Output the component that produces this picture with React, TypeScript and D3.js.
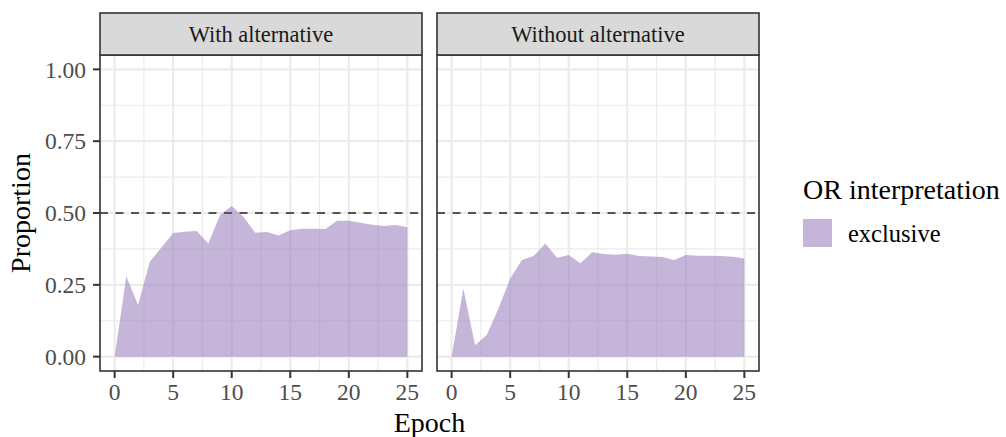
import React from "react";
import * as d3 from "d3";

const epochs = d3.range(0, 26);
const withAlt = [0, 0.28, 0.18, 0.33, 0.38, 0.43, 0.435, 0.437, 0.394, 0.493, 0.524, 0.487, 0.431, 0.434, 0.422, 0.44, 0.445, 0.445, 0.444, 0.473, 0.473, 0.466, 0.459, 0.455, 0.458, 0.45];
const withoutAlt = [0, 0.237, 0.04, 0.075, 0.168, 0.272, 0.336, 0.35, 0.394, 0.344, 0.354, 0.325, 0.363, 0.357, 0.355, 0.358, 0.35, 0.349, 0.347, 0.336, 0.354, 0.351, 0.351, 0.35, 0.348, 0.342];
const panels = ["With alternative", "Without alternative"];
const panelValues = [withAlt, withoutAlt];
const xTicks = [0, 5, 10, 15, 20, 25];
const xMinor = [2.5, 7.5, 12.5, 17.5, 22.5];
const yTicks = [0, 0.25, 0.5, 0.75, 1];
const yTickLabels = ["0.00", "0.25", "0.50", "0.75", "1.00"];
const yMinor = [0.125, 0.375, 0.625, 0.875];
const refLine = 0.5;
const legendTitle = "OR interpretation";
const legendLabel = "exclusive";

const FONT = "'Liberation Serif', 'Times New Roman', serif";
const panelLefts = [100, 437];
const panelW = 322;
const panelTop = 55;
const panelBottom = 371;
const stripTop = 13;

export default function App() {
  const y = d3.scaleLinear().domain([-0.05, 1.05]).range([panelBottom, panelTop]);
  return (
    <div style={{ position: "absolute", left: 0, top: 0 }}>
      <svg width={1006} height={437} style={{ display: "block", background: "#fff" }} fontFamily={FONT}>
        {panels.map((name, pi) => {
          const left = panelLefts[pi];
          const x = d3.scaleLinear().domain([-1.25, 26.25]).range([left, left + panelW]);
          const vals = panelValues[pi];
          const area = d3
            .area<number>()
            .x((_, i) => x(epochs[i]))
            .y0(y(0))
            .y1((d) => y(d));
          return (
            <g key={name}>
              <rect x={left} y={panelTop} width={panelW} height={panelBottom - panelTop} fill="#fff" />
              {xMinor.map((t) => (
                <line key={"xm" + t} x1={x(t)} x2={x(t)} y1={panelTop} y2={panelBottom} stroke="#EBEBEB" strokeWidth={1.2} />
              ))}
              {yMinor.map((t) => (
                <line key={"ym" + t} x1={left} x2={left + panelW} y1={y(t)} y2={y(t)} stroke="#EBEBEB" strokeWidth={1.2} />
              ))}
              {xTicks.map((t) => (
                <line key={"xM" + t} x1={x(t)} x2={x(t)} y1={panelTop} y2={panelBottom} stroke="#EBEBEB" strokeWidth={2.2} />
              ))}
              {yTicks.map((t) => (
                <line key={"yM" + t} x1={left} x2={left + panelW} y1={y(t)} y2={y(t)} stroke="#EBEBEB" strokeWidth={2.2} />
              ))}
              <path d={area(vals) || ""} fill="#9E84C0" fillOpacity={0.6} />
              <line x1={left} x2={left + panelW} y1={y(refLine)} y2={y(refLine)} stroke="#555" strokeWidth={2} strokeDasharray="8,7.5" />
              <rect x={left} y={panelTop} width={panelW} height={panelBottom - panelTop} fill="none" stroke="#333" strokeWidth={1.6} />
              <rect x={left} y={stripTop} width={panelW} height={panelTop - stripTop} fill="#D9D9D9" stroke="#333" strokeWidth={1.6} />
              <text x={left + panelW / 2} y={41.5} textAnchor="middle" fontSize={22.5} fill="#1A1A1A">
                {name}
              </text>
              {xTicks.map((t) => (
                <g key={"xt" + t}>
                  <line x1={x(t)} x2={x(t)} y1={panelBottom} y2={panelBottom + 7} stroke="#333" strokeWidth={2} />
                  <text x={x(t)} y={400} textAnchor="middle" fontSize={23.5} fill="#4D4D4D">
                    {t}
                  </text>
                </g>
              ))}
            </g>
          );
        })}
        {yTicks.map((t, i) => (
          <g key={"yt" + t}>
            <line x1={93} x2={100} y1={y(t)} y2={y(t)} stroke="#333" strokeWidth={2} />
            <text x={86} y={y(t)} dy="0.35em" textAnchor="end" fontSize={23.5} fill="#4D4D4D">
              {yTickLabels[i]}
            </text>
          </g>
        ))}
        <text x={429.5} y={431.5} textAnchor="middle" fontSize={28} fill="#000">
          Epoch
        </text>
        <text transform={`translate(30,${(panelTop + panelBottom) / 2}) rotate(-90)`} textAnchor="middle" fontSize={28} fill="#000">
          Proportion
        </text>
        <text x={803} y={199} fontSize={28} fill="#000">
          {legendTitle}
        </text>
        <rect x={803} y={219} width={29} height={28} fill="#9E84C0" fillOpacity={0.6} />
        <text x={848} y={242} fontSize={24.5} fill="#000">
          {legendLabel}
        </text>
      </svg>
    </div>
  );
}
